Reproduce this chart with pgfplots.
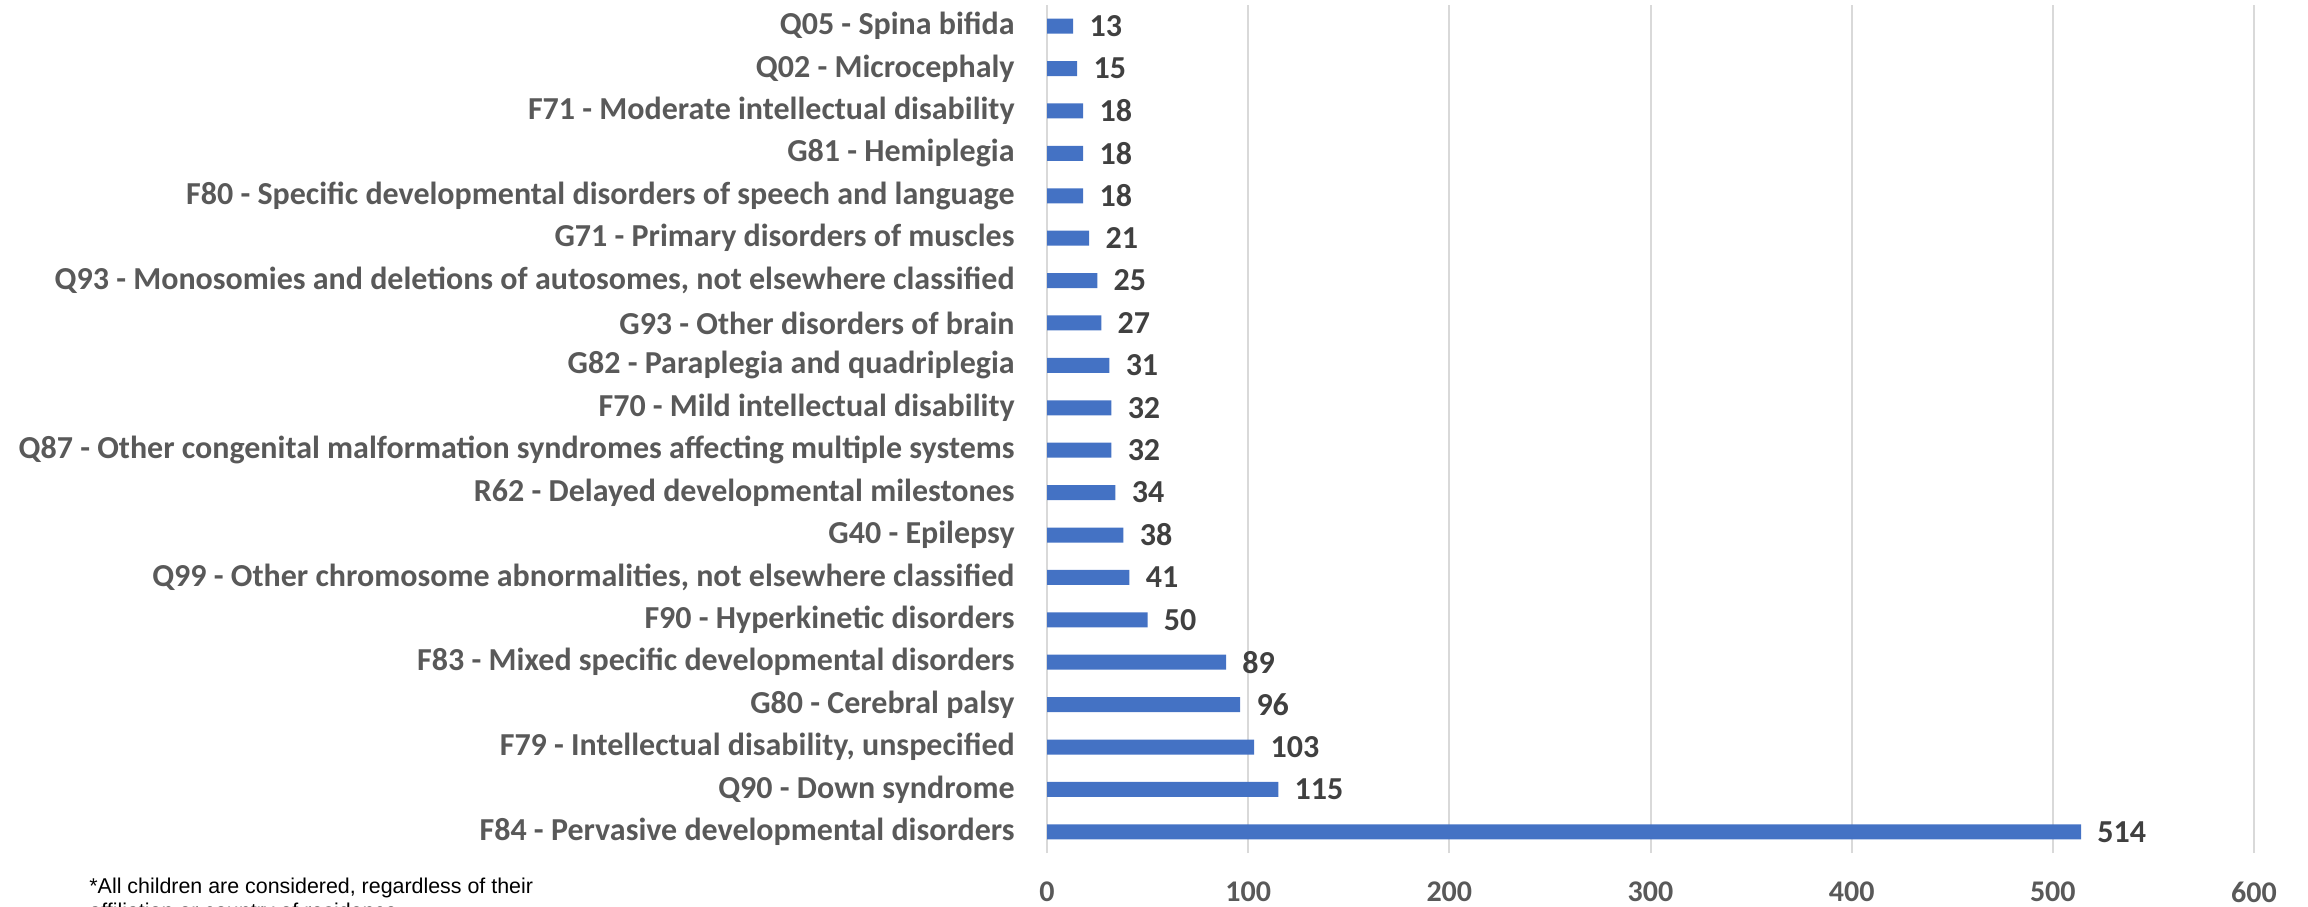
\documentclass[border=0pt]{standalone}
\usepackage{fontspec}
\setmainfont{Carlito}
\newfontfamily\arialfont{Liberation Sans}
\usepackage{pgfplots}
\pgfplotsset{compat=1.18}
\definecolor{barblue}{HTML}{4472C4}
\definecolor{labgray}{HTML}{595959}
\definecolor{valgray}{HTML}{404040}
\definecolor{gridgray}{HTML}{D9D9D9}
\begin{document}
\begin{tikzpicture}[x=1pt,y=1pt]
\path[use as bounding box] (0,0) rectangle (1154,453);
\begin{axis}[
  at={(523.5pt,26.5pt)}, anchor=south west,
  scale only axis, width=603.5pt, height=424pt,
  xbar, bar width=7.5pt,
  xmin=0, xmax=600, ymin=-0.5, ymax=19.5,
  xtick={0,100,...,600},
  ytick={0,...,19},
  yticklabels={
    F84 - Pervasive developmental disorders,
    Q90 - Down syndrome,
    F79 - Intellectual disability{,} unspecified,
    G80 - Cerebral palsy,
    F83 - Mixed specific developmental disorders,
    F90 - Hyperkinetic disorders,
    Q99 - Other chromosome abnormalities{,} not elsewhere classified,
    G40 - Epilepsy,
    R62 - Delayed developmental milestones,
    Q87 - Other congenital malformation syndromes affecting multiple systems,
    F70 - Mild intellectual disability,
    G82 - Paraplegia and quadriplegia,
    G93 - Other disorders of brain,
    Q93 - Monosomies and deletions of autosomes{,} not elsewhere classified,
    G71 - Primary disorders of muscles,
    F80 - Specific developmental disorders of speech and language,
    G81 - Hemiplegia,
    F71 - Moderate intellectual disability,
    Q02 - Microcephaly,
    Q05 - Spina bifida},
  axis line style={draw=none},
  major tick length=0pt,
  xmajorgrids, grid style={gridgray, line width=1pt},
  /pgf/number format/assume math mode=true,
  xticklabel style={font=\fontsize{15}{18}\selectfont\bfseries, text=labgray, yshift=-11pt},
  yticklabel style={font=\fontsize{16}{19}\selectfont\bfseries, text=labgray, inner sep=0pt, xshift=-16pt},
  nodes near coords,
  every node near coord/.append style={font=\fontsize{16}{19}\selectfont\bfseries, text=valgray, anchor=west, inner sep=0pt, xshift=8pt},
]
\addplot[fill=barblue, draw=none] coordinates {
(514,0) (115,1) (103,2) (96,3) (89,4) (50,5) (41,6) (38,7) (34,8) (32,9)
(32,10) (31,11) (27,12) (25,13) (21,14) (18,15) (18,16) (18,17) (15,18) (13,19)};
\end{axis}
\node[anchor=base west, inner sep=0pt, font=\arialfont\fontsize{10.7}{13}\selectfont] at (44.5,6.5) {*All children are considered, regardless of their};
\node[anchor=base west, inner sep=0pt, font=\arialfont\fontsize{10.7}{13}\selectfont] at (44.5,-6) {affiliation or country of residence};
\end{tikzpicture}
\end{document}
